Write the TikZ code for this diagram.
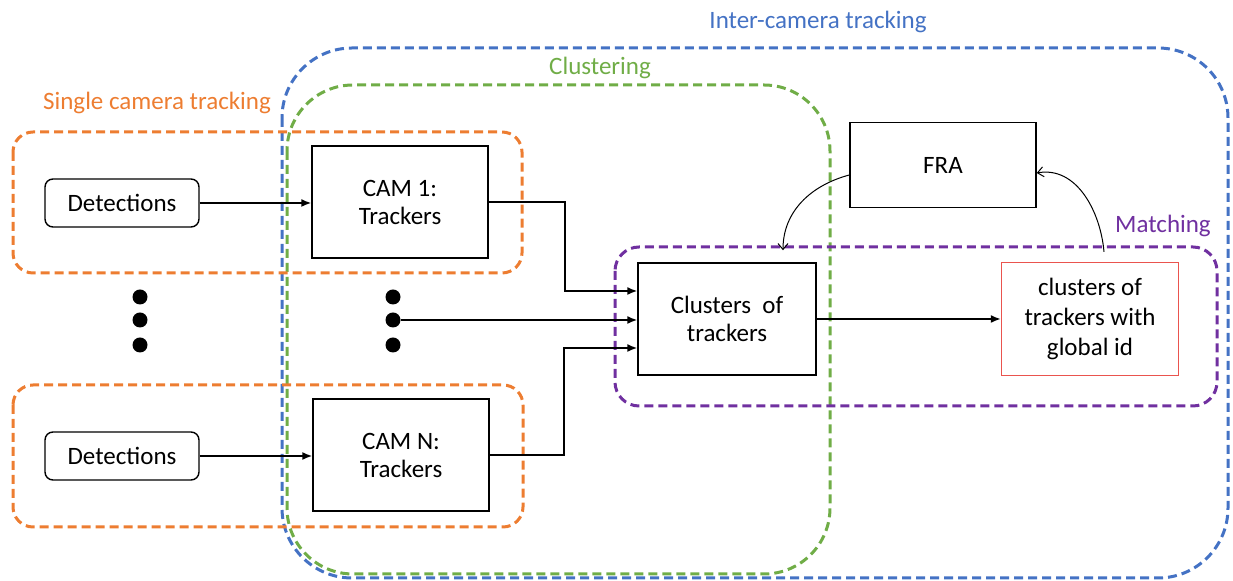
\documentclass[tikz,border=0pt]{standalone}
\usepackage{fontspec}
\setmainfont{Carlito}
\usepackage{xcolor}
\usepackage{tikz}
\usetikzlibrary{arrows.meta, positioning, calc}
\definecolor{scorange}{RGB}{237,125,49}
\definecolor{icblue}{RGB}{68,114,196}
\definecolor{clgreen}{RGB}{112,173,71}
\definecolor{mtpurple}{RGB}{112,48,160}
\definecolor{gidred}{RGB}{234,84,78}

\begin{document}
\begin{tikzpicture}[
        x=0.5pt, y=-0.5pt,
        font=\fontsize{12.5}{14}\selectfont,
        detbox/.style={rectangle, rounded corners=4pt, draw=black, line width=0.7pt,
                       minimum width=77pt, minimum height=24pt, align=center},
        stagebox/.style={rectangle, draw=black, line width=0.7pt,
                         minimum width=88pt, minimum height=56pt, align=center},
        group/.style={dashed, line width=1.5pt, dash pattern=on 4.5pt off 2.5pt},
        grouplabel/.style={font=\fontsize{12.5}{14}\selectfont},
        dot/.style={circle, fill=black, inner sep=0pt, minimum size=7.5pt},
        arrow/.style={-{Latex[length=5pt,width=4pt]}, line width=0.8pt},
        thinarrow/.style={-{Straight Barb[length=3pt,width=5pt]}, line width=0.5pt}
      ]
        \useasboundingbox (0,0) rectangle (1233,581);
        % Groups
        \draw[group, icblue, rounded corners=35pt] (282,48) rectangle (1228,578);
        \draw[group, clgreen, rounded corners=33pt] (287,85) rectangle (830,574);
        \draw[group, scorange, rounded corners=10pt] (13,132) rectangle (522,273);
        \draw[group, scorange, rounded corners=10pt] (13,385) rectangle (523,527);
        \draw[group, mtpurple, rounded corners=12pt] (615,247) rectangle (1217,406);
        % Group labels
        \node[grouplabel, text=scorange] (lblsingle) at (157,103) {Single camera tracking};
        \node[grouplabel, text=clgreen] (lblclust) at (600,68) {Clustering};
        \node[grouplabel, text=icblue] (lblinter) at (818,22) {Inter-camera tracking};
        \node[grouplabel, text=mtpurple] (lblmatch) at (1163,226) {Matching};
        % Nodes — manually placed
        \node[detbox] (det1) at (122,203) {Detections};
        \node[detbox] (det2) at (122,456) {Detections};
        \node[stagebox] (cam1) at (400,202) {CAM 1:\\Trackers};
        \node[stagebox] (camN) at (401,455) {CAM N:\\Trackers};
        \node[stagebox, minimum width=89pt] (clus) at (727,319) {Clusters\ \ of\\trackers};
        \node[stagebox, minimum width=93pt, minimum height=42.5pt] (fra) at (943,165) {FRA};
        \node[stagebox, draw=gidred, minimum width=88.5pt, minimum height=56.5pt,
              font=\fontsize{12.5}{15}\selectfont] (glob) at (1090,319)
          {clusters of\\trackers with\\global id};
        % Dots
        \foreach \i/\y in {1/297, 2/320, 3/345} {
          \node[dot] (dl\i) at (140,\y) {};
          \node[dot] (dm\i) at (393,\y) {};
        }
        % Edges
        \draw[arrow] (det1.east) -- (det1.east -| cam1.west);
        \draw[arrow] (det2.east) -- (det2.east -| camN.west);
        \draw[arrow] (cam1.east) -- ++(76,0) |- ([yshift=14pt]clus.west);
        \draw[arrow] (dm2) -- (dm2 -| clus.west);
        \draw[arrow] (camN.east) -- ++(74,0) |- ([yshift=-14.5pt]clus.west);
        \draw[arrow] (clus.east) -- (glob.west);
        \draw[thinarrow] ([yshift=-5pt]fra.west) to[out=195, in=90]
          ([xshift=28pt,yshift=6pt]clus.north);
        \draw[thinarrow] ([xshift=7pt,yshift=5pt]glob.north) to[out=95, in=10]
          ([yshift=-4pt]fra.east);
      \end{tikzpicture}
\end{document}
